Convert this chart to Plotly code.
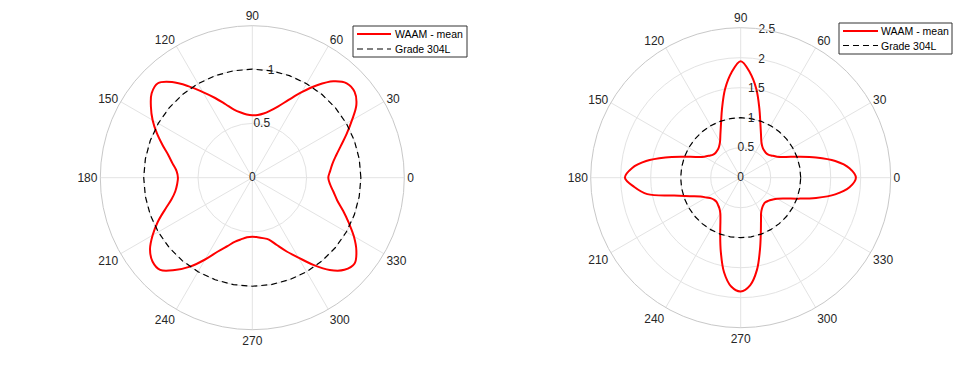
import plotly.graph_objects as go

# ---- data ----
angles_deg = list(range(0, 365, 5))

waam_left = [
    0.70, 0.72, 0.75, 0.80, 0.87, 0.96, 1.06, 1.17, 1.23, 1.23,
    1.16, 1.04, 0.91, 0.79, 0.70, 0.64, 0.60, 0.58, 0.575,
    0.585, 0.61, 0.65, 0.72, 0.81, 0.91, 1.03, 1.15, 1.23, 1.21,
    1.14, 1.06, 0.97, 0.88, 0.80, 0.745, 0.70, 0.685,
    0.695, 0.72, 0.77, 0.855, 0.96, 1.06, 1.15, 1.20, 1.20,
    1.11, 1.00, 0.87, 0.75, 0.67, 0.61, 0.575, 0.55, 0.543,
    0.55, 0.565, 0.59, 0.66, 0.75, 0.85, 0.98, 1.11, 1.20,
    1.23, 1.17, 1.08, 0.98, 0.89, 0.81, 0.76, 0.72, 0.70,
]

waam_right = [
    1.92, 1.82, 1.60, 1.30, 1.02, 0.82, 0.70, 0.64, 0.60, 0.59,
    0.60, 0.63, 0.69, 0.80, 0.96, 1.20, 1.50, 1.76, 1.94,
    1.76, 1.50, 1.20, 0.96, 0.80, 0.69, 0.63, 0.60, 0.59,
    0.60, 0.64, 0.70, 0.82, 1.02, 1.30, 1.60, 1.82, 1.93,
    1.78, 1.58, 1.15, 0.90, 0.74, 0.66, 0.60, 0.575, 0.57,
    0.59, 0.62, 0.68, 0.80, 1.00, 1.28, 1.60, 1.82, 1.895,
    1.80, 1.56, 1.24, 0.98, 0.80, 0.68, 0.62, 0.59, 0.58,
    0.60, 0.64, 0.70, 0.82, 1.02, 1.30, 1.60, 1.82, 1.92,
]

ref_angles_deg = list(range(0, 370, 10))
grade_304L = [1.0, 1.0, 1.0, 1.0, 1.0, 1.0, 1.0, 1.0, 1.0, 1.0,
              1.0, 1.0, 1.0, 1.0, 1.0, 1.0, 1.0, 1.0, 1.0, 1.0,
              1.0, 1.0, 1.0, 1.0, 1.0, 1.0, 1.0, 1.0, 1.0, 1.0,
              1.0, 1.0, 1.0, 1.0, 1.0, 1.0, 1.0]

angular_ticks = [0, 30, 60, 90, 120, 150, 180, 210, 240, 270, 300, 330]
left_r_ticks = [0, 0.5, 1]
left_r_labels = ["0", "0.5", "1"]
left_r_max = 1.4
right_r_ticks = [0, 0.5, 1, 1.5, 2, 2.5]
right_r_labels = ["0", "0.5", "1", "1.5", "2", "2.5"]
right_r_max = 2.5
r_label_angle = 80

series_names = ["WAAM - mean", "Grade 304L"]

TXT = "#262626"
GRID = "#e3e3e3"
FONT = "Liberation Sans, Arial, sans-serif"
DASH = "6px,4px"

W, H = 968, 358      # figure size; page body adds an 8px margin
OFF = 8


def px(sx):
    return (sx - OFF) / W


def py(sy):
    return 1 - (sy - OFF) / H


fig = go.Figure()

for sub, r_vals, rt, rl in [("polar", waam_left, left_r_ticks, left_r_labels),
                            ("polar2", waam_right, right_r_ticks, right_r_labels)]:
    fig.add_trace(go.Scatterpolar(
        r=r_vals, theta=angles_deg, mode="lines", name=series_names[0],
        line=dict(color="#ff0000", width=2, shape="spline", smoothing=1),
        subplot=sub, showlegend=False))
    fig.add_trace(go.Scatterpolar(
        r=grade_304L, theta=ref_angles_deg, mode="lines", name=series_names[1],
        line=dict(color="#000000", width=1.2, dash=DASH),
        subplot=sub, showlegend=False))
    # radial tick labels, centred on the 80-degree spoke as in MATLAB
    fig.add_trace(go.Scatterpolar(
        r=rt, theta=[r_label_angle] * len(rt), mode="text", text=rl,
        textposition="middle center",
        textfont=dict(family=FONT, size=12, color=TXT),
        subplot=sub, showlegend=False, hoverinfo="skip"))


def polar_layout(cx, cy, rad, rmax, rticks):
    return dict(
        domain=dict(x=[px(cx - rad), px(cx + rad)], y=[py(cy + rad), py(cy - rad)]),
        bgcolor="white",
        angularaxis=dict(
            direction="counterclockwise", rotation=0,
            tickmode="array", tickvals=angular_ticks,
            ticktext=[str(a) for a in angular_ticks],
            ticks="", showline=True, linecolor="#c8c8c8", linewidth=1,
            gridcolor=GRID, gridwidth=1,
            tickfont=dict(family=FONT, size=12, color=TXT),
        ),
        radialaxis=dict(
            range=[0, rmax], tickmode="array", tickvals=rticks,
            showticklabels=False,
            angle=80, showline=False, ticks="",
            gridcolor=GRID, gridwidth=1,
        ),
    )


shapes = []
annotations = []


def add_legend(x0, y0, x1, y1, line_x0, line_x1, y_red, y_dash, text_x):
    shapes.append(dict(type="rect", xref="paper", yref="paper",
                       x0=px(x0), x1=px(x1), y0=py(y1), y1=py(y0),
                       line=dict(color="#333333", width=1), fillcolor="white", layer="above"))
    shapes.append(dict(type="line", xref="paper", yref="paper",
                       x0=px(line_x0), x1=px(line_x1), y0=py(y_red), y1=py(y_red),
                       line=dict(color="#ff0000", width=2), layer="above"))
    shapes.append(dict(type="line", xref="paper", yref="paper",
                       x0=px(line_x0), x1=px(line_x1), y0=py(y_dash), y1=py(y_dash),
                       line=dict(color="#000000", width=1.2, dash=DASH), layer="above"))
    for name, yy in zip(series_names, [y_red, y_dash]):
        annotations.append(dict(xref="paper", yref="paper", x=px(text_x), y=py(yy),
                                xanchor="left", yanchor="middle", showarrow=False,
                                text=name, font=dict(family=FONT, size=10.5, color="#000000")))


add_legend(353, 26, 467, 57, 357, 391, 34, 49, 393)
add_legend(839, 23, 952, 54, 843, 878, 31, 45.5, 879)

fig.update_layout(
    width=W, height=H,
    margin=dict(l=0, r=0, t=0, b=0),
    paper_bgcolor="white",
    showlegend=False,
    polar=polar_layout(252.3, 177.7, 152, left_r_max, left_r_ticks),
    polar2=polar_layout(740.7, 177.7, 150, right_r_max, right_r_ticks),
    shapes=shapes,
    annotations=annotations,
)

fig.write_html("out.html")
